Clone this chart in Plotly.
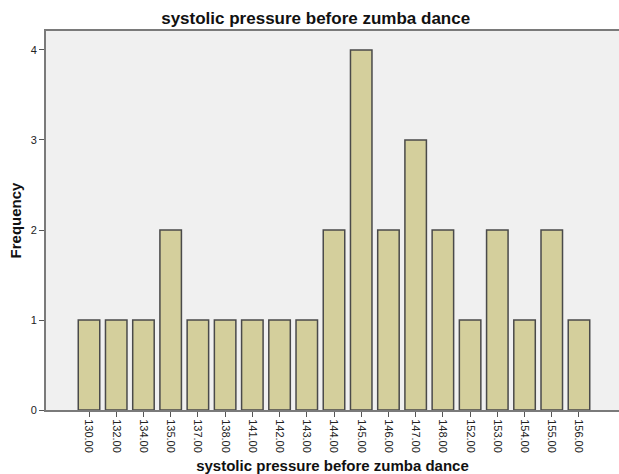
import plotly.graph_objects as go

categories = ["130.00", "132.00", "134.00", "135.00", "137.00", "138.00", "141.00",
              "142.00", "143.00", "144.00", "145.00", "146.00", "147.00", "148.00",
              "152.00", "153.00", "154.00", "155.00", "156.00"]
frequency = [1, 1, 1, 2, 1, 1, 1, 1, 1, 2, 4, 2, 3, 2, 1, 2, 1, 2, 1]
y_ticks = [0, 1, 2, 3, 4]

FONT = "Liberation Sans, Arial, sans-serif"

fig = go.Figure(go.Bar(
    x=categories, y=frequency,
    marker=dict(color="#d4cf9c", line=dict(color="#4a4a4a", width=1.5)),
))

fig.update_layout(
    width=619, height=474,
    margin=dict(l=46, r=0, t=31, b=64, autoexpand=False),
    paper_bgcolor="white", plot_bgcolor="#f0f0f0",
    bargap=0.21,
    showlegend=False,
    font=dict(family=FONT, color="#222"),
    title=dict(text="<b>systolic pressure before zumba dance</b>",
               x=0.51, xanchor="center", y=0.962, yanchor="middle",
               font=dict(size=17, family=FONT, color="#111")),
)

fig.update_xaxes(
    type="category", range=[-1.58, 19.47], automargin=False,
    showline=True, linecolor="#7a7a7a", linewidth=2, mirror=True,
    ticks="outside", ticklen=5, tickcolor="#555", tickwidth=1,
    tickangle=90, tickfont=dict(size=11, color="#222"),
    showgrid=False,
    title=dict(text="<b>systolic pressure before zumba dance</b>",
               font=dict(size=15, family=FONT, color="#111"), standoff=9),
)
fig.update_yaxes(
    range=[0, 4.211], tickvals=y_ticks, automargin=False,
    showline=True, linecolor="#7a7a7a", linewidth=2,
    ticks="outside", ticklen=5, tickcolor="#555", tickwidth=1,
    tickfont=dict(size=11, color="#222"),
    showgrid=False, zeroline=False,
    title=dict(text="<b>Frequency</b>",
               font=dict(size=15, family=FONT, color="#111"), standoff=5),
)

fig.write_html(
    "out.html",
    config={"displayModeBar": False},
    post_script="document.body.style.margin='0';document.body.style.overflow='hidden';",
)
